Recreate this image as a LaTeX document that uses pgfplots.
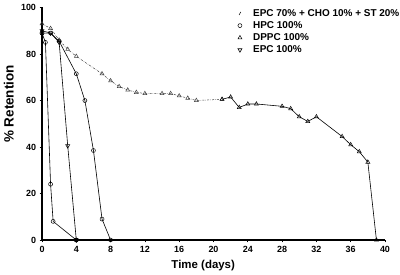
\documentclass[border=0pt]{standalone}
\usepackage{fontspec}
\setmainfont{Liberation Sans}
\usepackage{pgfplots}
\pgfplotsset{compat=1.18}
\begin{document}
\begin{tikzpicture}
\useasboundingbox (-42bp,-35bp) rectangle (358bp,240bp);
\begin{axis}[
  scale only axis, width=343bp, height=232.5bp,
  xmin=0, xmax=40, ymin=0, ymax=100,
  axis lines=left, axis line style={line width=1.6pt,-},
  xtick={0,4,...,40}, ytick={0,20,...,100},
  tick style={black, line width=0.8pt}, tick align=outside, major tick length=2.5pt,
  ticklabel style={font=\bfseries\fontsize{9}{9}\selectfont},
  /pgf/number format/assume math mode=true,
  xlabel={Time (days)}, ylabel={\% Retention},
  xlabel style={font=\bfseries\fontsize{11.5}{12}\selectfont, at={(axis description cs:0.47,-0.108)}, anchor=center},
  ylabel style={font=\bfseries\fontsize{13.5}{14}\selectfont, at={(axis description cs:-0.097,0.585)}, anchor=center},
  clip=false,
  legend style={draw=none, fill=none, at={(axis description cs:0.562,1.01)}, anchor=north west,
    font=\bfseries\fontsize{10}{11}\selectfont, row sep=0pt,
    nodes={inner sep=1.2pt, text height=7.8pt, text depth=2pt},
    /tikz/every odd column/.append style={column sep=10bp}},
  legend cell align=left,
  every axis plot/.append style={black, line width=0.6pt},
  mark options={solid, fill=white, line width=0.5pt},
]
% long series, first part
\addplot[black!75, line width=0.5pt, dash pattern=on 2pt off 1.2pt on 0.5pt off 1.2pt, mark=triangle, mark size=2.3pt, forget plot]
  coordinates {(0,93)(1,91)(2,86)(3,82)(4,79)(7,71.5)(8,68.5)(9,66)(10,64.5)(11,63.5)(12,63)(14,63)(15,63)(16,62)(17,61)(18,60)(21,60.5)};
% long series, second part
\addplot[black, line width=0.6pt, mark=triangle, mark size=2.3pt, forget plot]
  coordinates {(21,60.5)(22,61.5)(23,57)(24,58.5)(25,58.5)(28,57.5)(29,56.5)(30,53)(31,51)(32,53)(35,44.5)(36,41)(37,38)(38,33.5)(39,0)};
% circles to day 8
\addplot[mark=o, mark size=2pt, forget plot]
  coordinates {(0,89)(1,89)(2,85.5)(4,71.5)(5,60)(6,38.5)(7,9)(8,0)};
% inverted triangles to day 4
\addplot[mark=triangle, mark size=2.3pt, mark options={rotate=180}, forget plot]
  coordinates {(0,90)(1,89)(2,85)(3,40.5)(4,0)};
% fastest
\addplot[mark=o, mark size=2pt, forget plot]
  coordinates {(0,89)(0.4,85)(1,24)(1.3,8)(4,0)};
\addplot[only marks, mark=*, mark size=2pt, mark options={fill=black}, forget plot]
  coordinates {(4,0)};
% legend
\addlegendimage{legend image code/.code={\draw[black, line width=0.5pt] (0.27cm,-1.5pt) -- (0.33cm,1.5pt);}}
\addlegendentry{EPC 70\% + CHO 10\% + ST 20\%}
\addlegendimage{only marks, mark=o, mark size=2pt}
\addlegendentry{HPC 100\%}
\addlegendimage{only marks, mark=triangle, mark size=2.3pt}
\addlegendentry{DPPC 100\%}
\addlegendimage{only marks, mark=triangle, mark size=2.3pt, mark options={rotate=180}}
\addlegendentry{EPC 100\%}
\end{axis}
\end{tikzpicture}
\end{document}
